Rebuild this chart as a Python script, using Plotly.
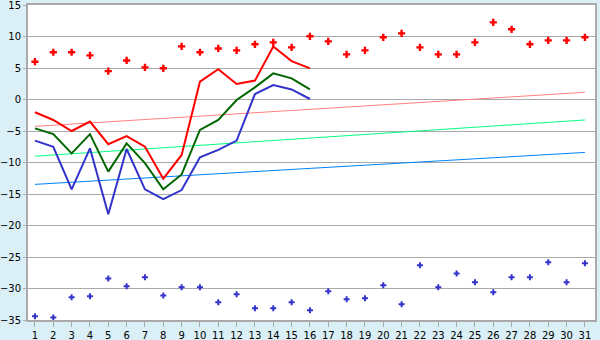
import plotly.graph_objects as go

days = list(range(1, 32))
line_days = list(range(1, 17))

red_points = [6.0, 7.5, 7.5, 7.0, 4.5, 6.2, 5.1, 4.95, 8.44, 7.5, 8.1, 7.8, 8.76, 9.07, 8.28, 10.03,
              9.23, 7.17, 7.8, 9.87, 10.5, 8.28, 7.17, 7.17, 9.07, 12.25, 11.14, 8.76, 9.39, 9.39, 9.87]
blue_points = [-34.4, -34.6, -31.4, -31.24, -28.4, -29.65, -28.2, -31.1, -29.8, -29.8, -32.2, -30.9,
               -33.15, -33.15, -32.2, -33.46, -30.45, -31.7, -31.56, -29.5, -32.5, -26.3, -29.8,
               -27.6, -29.0, -30.6, -28.2, -28.2, -25.84, -29.0, -26.0]

red_line = [-2.03, -3.25, -5.0, -3.5, -7.1, -5.8, -7.5, -12.56, -8.8, 2.83, 4.8, 2.46, 3.0, 8.4, 6.1, 4.95]
green_line = [-4.58, -5.5, -8.55, -5.5, -11.45, -6.96, -10.1, -14.26, -11.9, -4.84, -3.25, -0.08, 1.93, 4.15, 3.36, 1.6]
blue_line = [-6.53, -7.5, -14.26, -7.75, -18.2, -7.86, -14.26, -15.8, -14.37, -9.18, -8.0, -6.53, 0.87, 2.3, 1.6, 0.08]

trend_x = [1, 31]
red_trend = [-4.26, 1.14]
green_trend = [-9.0, -3.25]
blue_trend = [-13.47, -8.4]

y_ticks = [15, 10, 5, 0, -5, -10, -15, -20, -25, -30, -35]

fig = go.Figure()
fig.add_trace(go.Scatter(x=trend_x, y=red_trend, mode="lines", line=dict(color="#ff8080", width=1)))
fig.add_trace(go.Scatter(x=trend_x, y=green_trend, mode="lines", line=dict(color="#00ff80", width=1)))
fig.add_trace(go.Scatter(x=trend_x, y=blue_trend, mode="lines", line=dict(color="#0080ff", width=1)))
fig.add_trace(go.Scatter(x=line_days, y=red_line, mode="lines", line=dict(color="#ff0000", width=2)))
fig.add_trace(go.Scatter(x=line_days, y=green_line, mode="lines", line=dict(color="#006600", width=2)))
fig.add_trace(go.Scatter(x=line_days, y=blue_line, mode="lines", line=dict(color="#3333cc", width=2)))
fig.add_trace(go.Scatter(x=days, y=red_points, mode="markers",
                         marker=dict(symbol="cross", size=6, color="#ff0000", line=dict(width=0))))
fig.add_trace(go.Scatter(x=days, y=blue_points, mode="markers",
                         marker=dict(symbol="cross", size=5, color="#3333cc", line=dict(width=0))))

fig.update_layout(
    width=600, height=340,
    margin=dict(l=28, r=5, t=5, b=20, autoexpand=False),
    paper_bgcolor="#daeff6",
    plot_bgcolor="#ffffff",
    showlegend=False,
    font=dict(family="DejaVu Sans", size=10, color="#000000"),
)
fig.update_xaxes(range=[0.62, 31.55], tickmode="array", tickvals=days, ticktext=[str(d) for d in days],
                 showgrid=False, zeroline=False, showline=True, linecolor="#aaaaaa", linewidth=2,
                 mirror=True, ticks="outside", ticklen=5, tickcolor="#aaaaaa", tickfont=dict(size=10),
                 automargin=False, ticklabeloverflow="allow")
fig.update_yaxes(range=[-35, 15], tickmode="array", tickvals=y_ticks, ticktext=[str(v).replace("-", "\u2212") for v in y_ticks],
                 showgrid=True, gridcolor="#aaaaaa", gridwidth=1, zeroline=False, showline=True,
                 linecolor="#aaaaaa", linewidth=2, mirror=True, ticks="outside", ticklen=3,
                 tickcolor="#aaaaaa", tickfont=dict(size=10), automargin=False, ticklabeloverflow="allow")

fig.write_html("out.html")
